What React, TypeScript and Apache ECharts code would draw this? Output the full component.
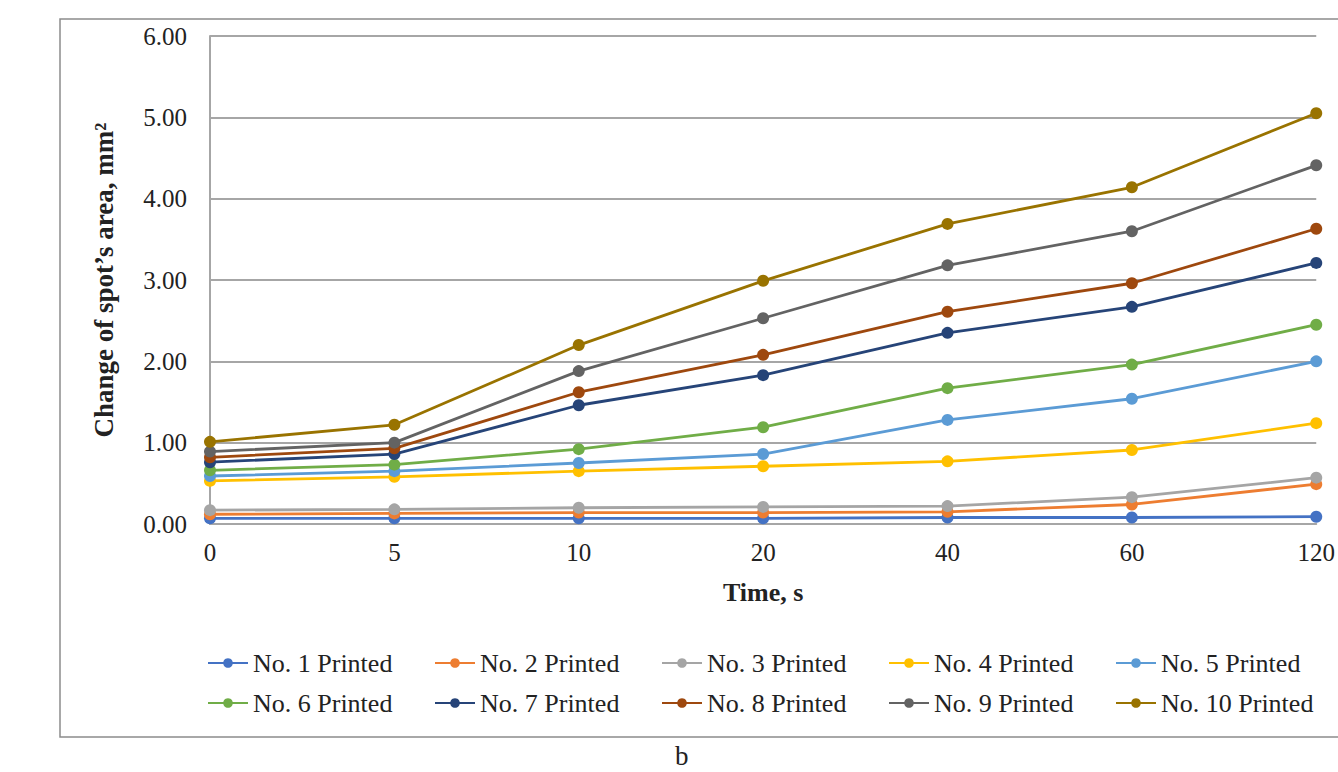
import React, { useEffect, useRef } from "react";
import * as echarts from "echarts";

const categories = ["0", "5", "10", "20", "40", "60", "120"];
const seriesNames = [
  "No. 1 Printed", "No. 2 Printed", "No. 3 Printed", "No. 4 Printed", "No. 5 Printed",
  "No. 6 Printed", "No. 7 Printed", "No. 8 Printed", "No. 9 Printed", "No. 10 Printed",
];
const colors = ["#4472C4", "#ED7D31", "#A5A5A5", "#FFC000", "#5B9BD5", "#70AD47", "#264478", "#9E480E", "#636363", "#997300"];
const no1 = [0.07, 0.07, 0.07, 0.07, 0.08, 0.08, 0.09];
const no2 = [0.12, 0.13, 0.14, 0.14, 0.15, 0.24, 0.49];
const no3 = [0.17, 0.18, 0.2, 0.21, 0.22, 0.33, 0.57];
const no4 = [0.53, 0.58, 0.65, 0.71, 0.77, 0.91, 1.24];
const no5 = [0.59, 0.65, 0.75, 0.86, 1.28, 1.54, 2.0];
const no6 = [0.66, 0.73, 0.92, 1.19, 1.67, 1.96, 2.45];
const no7 = [0.76, 0.86, 1.46, 1.83, 2.35, 2.67, 3.21];
const no8 = [0.82, 0.93, 1.62, 2.08, 2.61, 2.96, 3.63];
const no9 = [0.89, 1.0, 1.88, 2.53, 3.18, 3.6, 4.41];
const no10 = [1.01, 1.22, 2.2, 2.99, 3.69, 4.14, 5.05];
const allData = [no1, no2, no3, no4, no5, no6, no7, no8, no9, no10];
const yTicks = { min: 0, max: 6, interval: 1 };

const FONT = "'Liberation Serif', 'Times New Roman', serif";

export default function App() {
  const ref = useRef<HTMLDivElement>(null);
  useEffect(() => {
    if (!ref.current) return;
    const chart = echarts.init(ref.current, null, { renderer: "svg" });
    const colX = [207, 434, 661, 888, 1115];
    const rowY = [650, 690];
    const legends = seriesNames.map((n, i) => ({
      data: [n],
      left: colX[i % 5],
      top: rowY[Math.floor(i / 5)],
      itemWidth: 40,
      itemHeight: 12,
      itemGap: 4,
      padding: 0,
      textStyle: { fontFamily: FONT, fontSize: 26, color: "#222" },
    }));
    chart.setOption({
      animation: false,
      backgroundColor: "#fff",
      color: colors,
      grid: { left: 210, right: 19, top: 36, bottom: 248, containLabel: false },
      legend: legends,
      graphic: [
        { type: "rect", shape: { x: 60, y: 19, width: 1300, height: 718 }, style: { fill: "none", stroke: "#8c8c8c", lineWidth: 1.5 }, z: -1 },
        { type: "text", left: 675, top: 742, style: { text: "b", fontFamily: FONT, fontSize: 27, fill: "#222" } },
      ],
      xAxis: {
        type: "category",
        data: categories,
        boundaryGap: false,
        name: "Time, s",
        nameLocation: "middle",
        nameGap: 55,
        nameTextStyle: { fontFamily: FONT, fontSize: 26, fontWeight: "bold", color: "#222" },
        axisLine: { lineStyle: { color: "#a6a6a6", width: 2 } },
        axisTick: { show: false },
        axisLabel: { fontFamily: FONT, fontSize: 25, color: "#222", margin: 16 },
      },
      yAxis: {
        type: "value",
        min: yTicks.min,
        max: yTicks.max,
        interval: yTicks.interval,
        name: "Change of spot’s area, mm²",
        nameLocation: "middle",
        nameGap: 93,
        nameTextStyle: { fontFamily: FONT, fontSize: 27, fontWeight: "bold", color: "#222" },
        axisLine: { show: true, lineStyle: { color: "#a6a6a6", width: 2 } },
        axisTick: { show: false },
        splitLine: { lineStyle: { color: "#a6a6a6", width: 2 } },
        axisLabel: { fontFamily: FONT, fontSize: 25, color: "#222", margin: 23, formatter: (v: number) => v.toFixed(2) },
      },
      series: seriesNames.map((n, i) => ({
        name: n,
        type: "line",
        data: allData[i],
        symbol: "circle",
        symbolSize: 12,
        lineStyle: { width: 2.8, color: colors[i] },
        itemStyle: { color: colors[i] },
        z: 2 + i,
      })),
    });
    return () => chart.dispose();
  }, []);
  return <div ref={ref} style={{ width: 1338, height: 772, position: "absolute", left: 0, top: 0 }} />;
}
